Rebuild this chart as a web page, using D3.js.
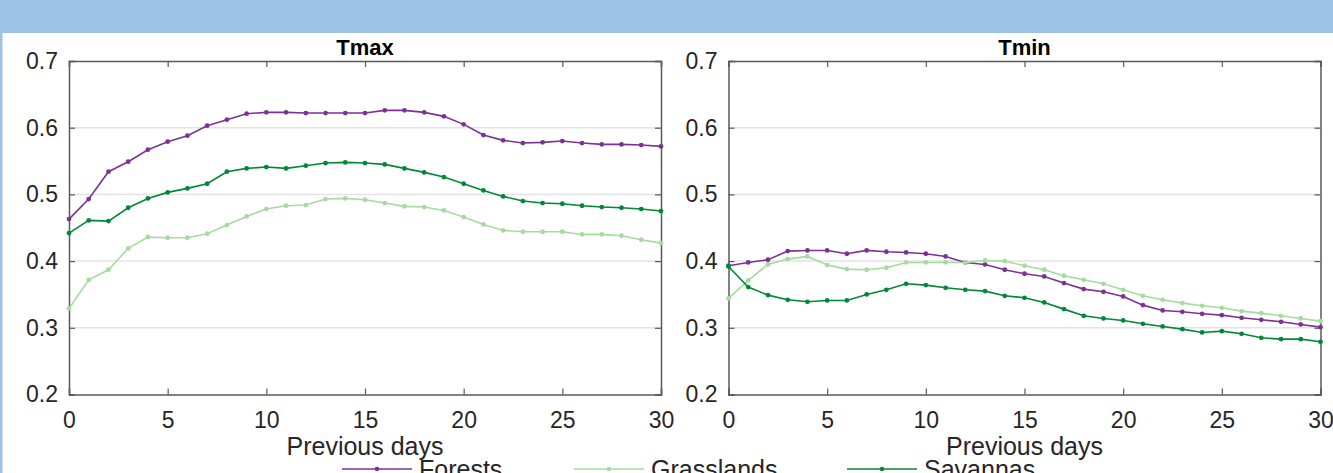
<!DOCTYPE html>
<html>
<head>
<meta charset="utf-8">
<script src="https://cdn.jsdelivr.net/npm/d3@7"></script>
<style>
  body { margin: 0; background: #fff; }
  svg { display: block; font-family: "Liberation Sans", Arial, sans-serif; }
</style>
</head>
<body>
<div id="chart"></div>
<script>
// data
var days = d3.range(0, 31);
var seriesNames = ["Forests", "Grasslands", "Savannas"];
var colors = ["#7b3294", "#a6dba0", "#008837"];
var yTicks = [0.2, 0.3, 0.4, 0.5, 0.6, 0.7];
var xTicks = [0, 5, 10, 15, 20, 25, 30];

var tmaxForests = [0.463, 0.493, 0.534, 0.549, 0.567, 0.579, 0.588, 0.603, 0.612, 0.621, 0.623,
  0.623, 0.622, 0.622, 0.622, 0.622, 0.626, 0.626, 0.623, 0.617, 0.605, 0.589, 0.581, 0.577,
  0.578, 0.580, 0.577, 0.575, 0.575, 0.574, 0.572];
var tmaxGrasslands = [0.329, 0.372, 0.387, 0.419, 0.436, 0.435, 0.435, 0.441, 0.454, 0.467, 0.478,
  0.483, 0.484, 0.493, 0.494, 0.492, 0.487, 0.482, 0.481, 0.476, 0.466, 0.455, 0.446, 0.444,
  0.444, 0.444, 0.440, 0.440, 0.438, 0.432, 0.427];
var tmaxSavannas = [0.442, 0.461, 0.460, 0.480, 0.494, 0.503, 0.509, 0.516, 0.534, 0.539, 0.541,
  0.539, 0.543, 0.547, 0.548, 0.547, 0.545, 0.539, 0.533, 0.526, 0.516, 0.506, 0.497, 0.490,
  0.487, 0.486, 0.483, 0.481, 0.480, 0.478, 0.475];

var tminForests = [0.393, 0.398, 0.402, 0.415, 0.416, 0.416, 0.411, 0.416, 0.414, 0.413, 0.411,
  0.407, 0.398, 0.395, 0.387, 0.381, 0.377, 0.367, 0.358, 0.354, 0.347, 0.334, 0.326, 0.324,
  0.321, 0.319, 0.315, 0.312, 0.309, 0.305, 0.301];
var tminGrasslands = [0.344, 0.371, 0.395, 0.403, 0.407, 0.394, 0.388, 0.387, 0.390, 0.398, 0.398,
  0.398, 0.398, 0.401, 0.400, 0.393, 0.387, 0.378, 0.372, 0.366, 0.357, 0.348, 0.342, 0.337,
  0.333, 0.330, 0.325, 0.322, 0.318, 0.314, 0.310];
var tminSavannas = [0.392, 0.361, 0.349, 0.342, 0.339, 0.341, 0.341, 0.350, 0.357, 0.366, 0.364,
  0.360, 0.357, 0.355, 0.348, 0.345, 0.338, 0.328, 0.318, 0.314, 0.311, 0.306, 0.302, 0.298,
  0.293, 0.295, 0.291, 0.285, 0.283, 0.283, 0.279];

var panels = [
  { title: "Tmax", left: 69, series: [tmaxForests, tmaxGrasslands, tmaxSavannas] },
  { title: "Tmin", left: 728.5, series: [tminForests, tminGrasslands, tminSavannas] }
];

var W = 1333, H = 473;
var pw = 592, plotTop = 61, plotBottom = 394.5;
var axisColor = "#5a5a5a", textColor = "#262626";

var svg = d3.select("#chart")
  .append("svg")
    .attr("width", W)
    .attr("height", H);

// blue frame behind the figure
svg.append("rect").attr("x", 0).attr("y", 0).attr("width", W).attr("height", 33).attr("fill", "#9dc3e6");
svg.append("rect").attr("x", 0).attr("y", 0).attr("width", 2.5).attr("height", H).attr("fill", "#9dc3e6");

var y = d3.scaleLinear().domain([0.2, 0.7]).range([plotBottom, plotTop]);

panels.forEach(function(p) {
  var x = d3.scaleLinear().domain([0, 30]).range([p.left, p.left + pw]);
  var g = svg.append("g");

  // grid lines
  g.selectAll(".grid")
    .data(yTicks.slice(1, -1))
    .enter().append("line")
      .attr("x1", x(0)).attr("x2", x(30))
      .attr("y1", function(d) { return y(d); })
      .attr("y2", function(d) { return y(d); })
      .attr("stroke", "#e3e3e3")
      .attr("stroke-width", 1.5);

  // axes, MATLAB style box with inward ticks
  var ax = [
    d3.axisBottom(x).tickValues(xTicks).tickSize(-6).tickPadding(17).tickFormat(d3.format("d")),
    d3.axisTop(x).tickValues(xTicks).tickSize(-6).tickFormat(""),
    d3.axisLeft(y).tickValues(yTicks).tickSize(-6).tickPadding(11).tickFormat(d3.format(".1f")),
    d3.axisRight(y).tickValues(yTicks).tickSize(-6).tickFormat("")
  ];
  var trans = ["translate(0," + plotBottom + ")", "translate(0," + plotTop + ")",
    "translate(" + x(0) + ",0)", "translate(" + x(30) + ",0)"];
  ax.forEach(function(a, i) {
    var ag = g.append("g").attr("transform", trans[i]).call(a);
    ag.select(".domain").attr("stroke", axisColor).attr("stroke-width", 1.5);
    ag.selectAll(".tick line").attr("stroke", axisColor).attr("stroke-width", 1.2);
    ag.selectAll("text").attr("fill", textColor).attr("font-size", 23);
  });

  // lines with markers
  p.series.forEach(function(vals, k) {
    var line = d3.line()
      .x(function(d, i) { return x(days[i]); })
      .y(function(d) { return y(d); });
    g.append("path")
      .datum(vals)
      .attr("fill", "none")
      .attr("stroke", colors[k])
      .attr("stroke-width", 1.6)
      .attr("d", line);
    g.selectAll(".pt" + k)
      .data(vals)
      .enter().append("circle")
        .attr("class", "pt" + k)
        .attr("cx", function(d, i) { return x(days[i]); })
        .attr("cy", function(d) { return y(d); })
        .attr("r", 2.4)
        .attr("fill", colors[k]);
  });

  g.append("text")
    .attr("x", x(15))
    .attr("y", 55)
    .attr("text-anchor", "middle")
    .attr("font-size", 22)
    .attr("font-weight", "bold")
    .attr("fill", "#000")
    .text(p.title);

  g.append("text")
    .attr("x", x(15))
    .attr("y", 455)
    .attr("text-anchor", "middle")
    .attr("font-size", 25)
    .attr("fill", textColor)
    .text("Previous days");
});

// legend at bottom, partly cut by the page edge
var legendX = [342, 574, 847];
seriesNames.forEach(function(name, k) {
  var lg = svg.append("g").attr("transform", "translate(" + legendX[k] + ",469)");
  lg.append("line").attr("x1", 0).attr("x2", 70).attr("stroke", colors[k]).attr("stroke-width", 1.3);
  lg.append("circle").attr("cx", 35).attr("r", 2.3).attr("fill", colors[k]);
  lg.append("text").attr("x", 77).attr("y", 9).attr("font-size", 25).attr("fill", textColor).text(name);
});
</script>
</body>
</html>
